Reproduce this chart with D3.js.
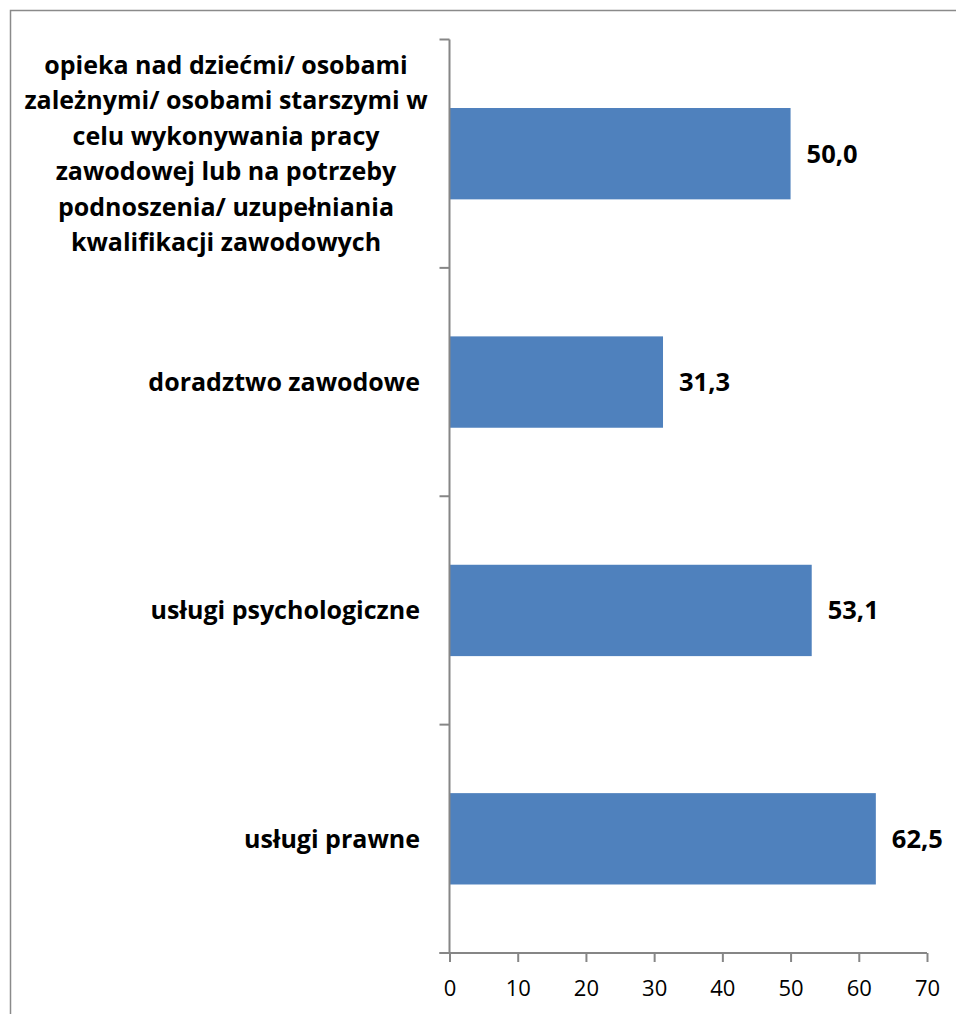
<!DOCTYPE html>
<html>
<head>
<meta charset="utf-8">
<script src="https://cdn.jsdelivr.net/npm/d3@7"></script>
<style>
  body { margin: 0; background: #fff; }
  svg { display: block; font-family: "Open Sans", sans-serif; }
</style>
</head>
<body>
<svg id="canvas"></svg>
<script>
var w = 956
var h = 1014

// data
var categories = [
    "opieka nad dziećmi/ osobami zależnymi/ osobami starszymi w celu wykonywania pracy zawodowej lub na potrzeby podnoszenia/ uzupełniania kwalifikacji zawodowych",
    "doradztwo zawodowe",
    "usługi psychologiczne",
    "usługi prawne"
];
var labelLines = [
    ["opieka nad dziećmi/ osobami", "zależnymi/ osobami starszymi w", "celu wykonywania pracy", "zawodowej lub na potrzeby", "podnoszenia/ uzupełniania", "kwalifikacji zawodowych"],
    ["doradztwo zawodowe"],
    ["usługi psychologiczne"],
    ["usługi prawne"]
];
var values = [50.0, 31.3, 53.1, 62.5];
var xTicks = [0, 10, 20, 30, 40, 50, 60, 70];

var svg = d3.select("#canvas")
    .attr("width", w)
    .attr("height", h);

// outer frame
svg.append("rect")
    .attr("x", 10.5)
    .attr("y", 10.5)
    .attr("width", w)
    .attr("height", h)
    .attr("fill", "none")
    .attr("stroke", "#8a8a8a")
    .attr("stroke-width", 1.5);

var x = d3.scaleLinear().domain([0, 70]).range([449.5, 927]);
var y = d3.scaleBand().domain(categories).range([39.5, 953]).paddingInner(0.6).paddingOuter(0.3);

// bars
svg.selectAll(".bar")
    .data(values).enter()
    .append("rect")
    .attr("class", "bar")
    .attr("x", x(0))
    .attr("y", function (d, i) { return y(categories[i]); })
    .attr("width", function (d) { return x(d) - x(0); })
    .attr("height", y.bandwidth())
    .attr("fill", "#4f81bd");

// value labels
svg.selectAll(".val")
    .data(values).enter()
    .append("text")
    .attr("class", "val")
    .attr("x", function (d) { return x(d) + 16; })
    .attr("y", function (d, i) { return y(categories[i]) + y.bandwidth() / 2; })
    .attr("dy", "0.35em")
    .attr("font-size", 25.5)
    .attr("font-weight", "bold")
    .attr("fill", "#000")
    .text(function (d) { return d3.format(".1f")(d).replace(".", ","); });

// axes
var axisColor = "#868686";
var step = (953 - 39.5) / categories.length;

var yAxis = svg.append("g");
yAxis.append("line")
    .attr("x1", x(0)).attr("x2", x(0))
    .attr("y1", 39.5).attr("y2", 953)
    .attr("stroke", axisColor).attr("stroke-width", 2);
yAxis.selectAll(".ytick")
    .data(d3.range(categories.length + 1)).enter()
    .append("line")
    .attr("x1", x(0) - 10).attr("x2", x(0))
    .attr("y1", function (d) { return 39.5 + d * step; })
    .attr("y2", function (d) { return 39.5 + d * step; })
    .attr("stroke", axisColor).attr("stroke-width", 2);

var xAxis = svg.append("g")
    .attr("transform", "translate(0,953)")
    .call(d3.axisBottom(x).tickValues(xTicks).tickSize(9).tickPadding(18).tickFormat(d3.format("d")));
xAxis.select(".domain").attr("stroke", axisColor).attr("stroke-width", 2).attr("d", "M" + (x(0) - 10) + ",0H" + x(70));
xAxis.selectAll(".tick line").attr("stroke", axisColor).attr("stroke-width", 2);
xAxis.selectAll(".tick text")
    .attr("font-size", 22)
    .attr("font-family", "'Open Sans', sans-serif")
    .attr("fill", "#000");

// category labels
var lineH = 35.5;
labelLines.forEach(function (lines, i) {
    var cy = y(categories[i]) + y.bandwidth() / 2;
    var g = svg.append("g").attr("class", "label");
    var t = g.selectAll("text")
        .data(lines).enter()
        .append("text")
        .attr("y", function (d, j) { return cy + (j - (lines.length - 1) / 2) * lineH; })
        .attr("dy", "0.35em")
        .attr("font-size", 25)
        .attr("font-weight", "bold")
        .attr("fill", "#000")
        .text(function (d) { return d; });
    if (lines.length > 1) {
        t.attr("text-anchor", "middle").attr("x", 226);
    } else {
        t.attr("text-anchor", "end").attr("x", 420);
    }
});
</script>
</body>
</html>
